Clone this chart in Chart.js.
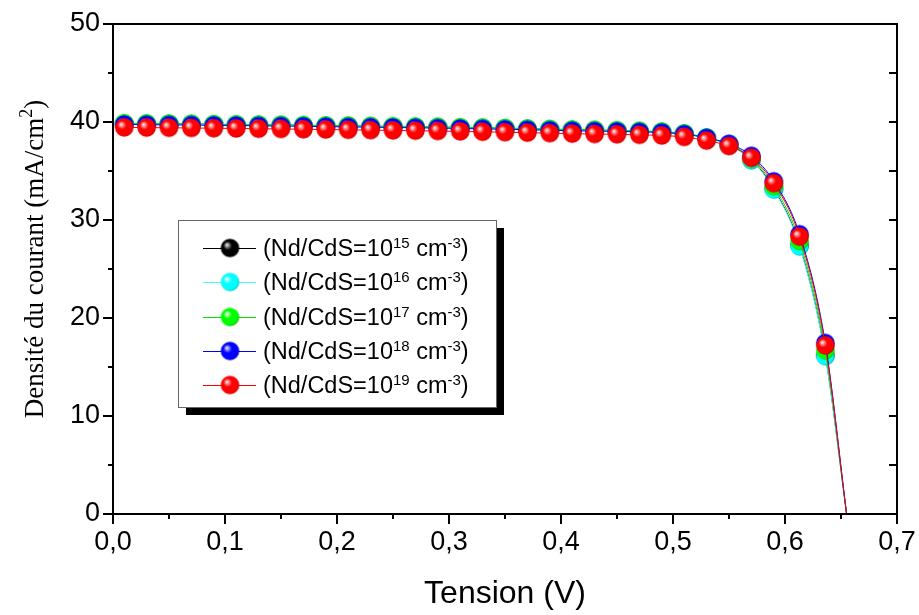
<!DOCTYPE html>
<html>
<head>
<meta charset="utf-8">
<title>Densité du courant</title>
<script src="https://cdn.jsdelivr.net/npm/chart.js@4.4.0/dist/chart.umd.min.js"></script>
<style>
  html, body { margin: 0; padding: 0; background: #fff; }
  #chart { display: block; }
</style>
</head>
<body>
<canvas id="chart" width="919" height="615"></canvas>
<script>
// J-V curves for several CdS doping levels (last point = open circuit, no marker)
var tension = [0.01, 0.03, 0.05, 0.07, 0.09, 0.11, 0.13, 0.15, 0.17, 0.19,
  0.21, 0.23, 0.25, 0.27, 0.29, 0.31, 0.33, 0.35, 0.37, 0.39,
  0.41, 0.43, 0.45, 0.47, 0.49, 0.51, 0.53, 0.55, 0.57, 0.59,
  0.613, 0.636, 0.655];

var jNd15 = [39.84, 39.82, 39.80, 39.78, 39.75, 39.73, 39.70, 39.68, 39.65, 39.62,
  39.59, 39.56, 39.53, 39.50, 39.47, 39.43, 39.39, 39.35, 39.30, 39.25,
  39.20, 39.16, 39.12, 39.06, 38.98, 38.80, 38.38, 37.66, 36.15, 33.20,
  27.40, 16.20, 0];
var jNd16 = [39.82, 39.80, 39.78, 39.76, 39.73, 39.71, 39.68, 39.66, 39.63, 39.60,
  39.57, 39.54, 39.51, 39.48, 39.45, 39.41, 39.37, 39.33, 39.28, 39.23,
  39.18, 39.14, 39.10, 39.04, 38.96, 38.78, 38.35, 37.62, 36.10, 33.10,
  27.30, 16.10, 0];
var jNd17 = [39.88, 39.86, 39.84, 39.82, 39.79, 39.77, 39.74, 39.72, 39.69, 39.66,
  39.63, 39.60, 39.57, 39.54, 39.51, 39.47, 39.43, 39.39, 39.34, 39.29,
  39.24, 39.20, 39.16, 39.10, 39.02, 38.84, 38.42, 37.72, 36.30, 33.45,
  27.85, 16.70, 0];
var jNd18 = [39.75, 39.73, 39.71, 39.69, 39.66, 39.64, 39.61, 39.59, 39.56, 39.53,
  39.50, 39.47, 39.44, 39.41, 39.38, 39.34, 39.30, 39.26, 39.21, 39.16,
  39.11, 39.07, 39.04, 38.99, 38.92, 38.76, 38.38, 37.78, 36.55, 33.95,
  28.55, 17.45, 0];
var jNd19 = [39.45, 39.43, 39.41, 39.39, 39.36, 39.34, 39.31, 39.29, 39.26, 39.23,
  39.20, 39.17, 39.14, 39.11, 39.08, 39.04, 39.00, 38.96, 38.91, 38.86,
  38.81, 38.77, 38.74, 38.69, 38.62, 38.47, 38.10, 37.55, 36.35, 33.75,
  28.30, 17.20, 0];

var series = [jNd15, jNd16, jNd17, jNd18, jNd19];
var dopingExp = ['15', '16', '17', '18', '19'];
var lineColors = ['#000000', '#4dffff', '#00e600', '#0000ff', '#ff0000'];
var ballColors = ['#000000', '#00ffff', '#00ff00', '#0000ff', '#ff0000'];

var SANS = "'Liberation Sans', Arial, sans-serif";
var SERIF = "'Liberation Serif', 'Times New Roman', serif";

function mix(a, b, t) {
  var pa = parseInt(a.slice(1), 16), pb = parseInt(b.slice(1), 16);
  var r = Math.round(((pa >> 16) & 255) * (1 - t) + ((pb >> 16) & 255) * t);
  var g = Math.round(((pa >> 8) & 255) * (1 - t) + ((pb >> 8) & 255) * t);
  var bl = Math.round((pa & 255) * (1 - t) + (pb & 255) * t);
  return 'rgb(' + r + ',' + g + ',' + bl + ')';
}

// shaded sphere used as marker
function makeBall(hex, r) {
  var size = Math.ceil(r * 2) + 2;
  var c = document.createElement('canvas');
  c.width = c.height = size;
  var g = c.getContext('2d');
  var cx = size / 2, cy = size / 2;
  var grad = g.createRadialGradient(cx - r * 0.35, cy - r * 0.35, 0, cx - r * 0.1, cy - r * 0.1, r * 1.1);
  grad.addColorStop(0, '#ffffff');
  grad.addColorStop(0.12, mix(hex, '#ffffff', 0.7));
  grad.addColorStop(0.42, hex);
  grad.addColorStop(0.85, hex);
  grad.addColorStop(1, mix(hex, '#000000', 0.2));
  g.fillStyle = grad;
  g.beginPath();
  g.arc(cx, cy, r, 0, Math.PI * 2);
  g.fill();
  return c;
}

var balls = ballColors.map(function (col) { return makeBall(col, 9.3); });

var datasets = series.map(function (vals, i) {
  return {
    label: dopingExp[i],
    data: tension.map(function (v, k) { return { x: v, y: vals[k] }; }),
    borderColor: lineColors[i],
    backgroundColor: ballColors[i],
    borderWidth: 1,
    pointStyle: balls[i],
    pointRadius: function (ctx) { return ctx.dataIndex === tension.length - 1 ? 0 : 9; },
    cubicInterpolationMode: 'monotone',
    order: series.length - i
  };
});

// axis frame with outside ticks on bottom/left, inside ticks on the right
var frameTicks = {
  id: 'frameTicks',
  afterDatasetsDraw: function (c) {
    var ctx = c.ctx, a = c.chartArea, xs = c.scales.x, ys = c.scales.y;
    ctx.save();
    ctx.strokeStyle = '#000';
    ctx.lineWidth = 2;
    ctx.strokeRect(a.left, a.top, a.right - a.left, a.bottom - a.top);
    ctx.beginPath();
    for (var k = 0; k <= 14; k++) {
      var px = Math.round(xs.getPixelForValue(k * 0.05));
      var len = k % 2 ? 5 : 10;
      ctx.moveTo(px, a.bottom);
      ctx.lineTo(px, a.bottom + len);
    }
    for (k = 0; k <= 10; k++) {
      var py = Math.round(ys.getPixelForValue(k * 5));
      len = k % 2 ? 5 : 10;
      ctx.moveTo(a.left, py);
      ctx.lineTo(a.left - len, py);
      ctx.moveTo(a.right, py);
      ctx.lineTo(a.right - 8, py);
    }
    ctx.stroke();
    ctx.restore();
  }
};

// draws text pieces in a row; [text, font, raise]
function drawRuns(ctx, x, base, parts) {
  ctx.textBaseline = 'alphabetic';
  ctx.textAlign = 'left';
  parts.forEach(function (p) {
    ctx.font = p[1];
    ctx.fillText(p[0], x, base - p[2]);
    x += ctx.measureText(p[0]).width;
  });
  return x;
}

function runsWidth(ctx, parts) {
  var w = 0;
  parts.forEach(function (p) { ctx.font = p[1]; w += ctx.measureText(p[0]).width; });
  return w;
}

var legendBox = {
  id: 'legendBox',
  afterDraw: function (c) {
    var ctx = c.ctx, a = c.chartArea;
    var x = a.left + 65, y = a.top + 196, w = 318, h = 187;
    var big = '23.5px ' + SANS, small = '15px ' + SANS;
    ctx.save();
    ctx.fillStyle = '#000';
    ctx.fillRect(x + 8, y + 8, w, h);
    ctx.fillStyle = '#fff';
    ctx.fillRect(x, y, w, h);
    ctx.strokeStyle = '#666';
    ctx.lineWidth = 1;
    ctx.strokeRect(x + 0.5, y + 0.5, w, h);
    c.data.datasets.forEach(function (d, i) {
      var ry = Math.round(y + 28 + i * 34.3);
      ctx.strokeStyle = d.borderColor;
      ctx.beginPath();
      ctx.moveTo(x + 25, ry + 0.5);
      ctx.lineTo(x + 78, ry + 0.5);
      ctx.stroke();
      var img = balls[i];
      ctx.drawImage(img, x + 52 - img.width / 2, ry - img.height / 2);
      ctx.fillStyle = '#000';
      drawRuns(ctx, x + 85, ry + 8, [['(Nd/CdS=10', big, 0], [dopingExp[i], small, 8],
        [' cm', big, 0], ['-3', small, 8], [')', big, 0]]);
    });
    ctx.restore();
  }
};

// rotated y-axis title with a raised exponent
var yTitle = {
  id: 'yTitle',
  afterDraw: function (c) {
    var ctx = c.ctx;
    var big = '27px ' + SERIF, small = '18px ' + SERIF;
    var parts = [['Densité du courant (mA/cm', big, 0], ['2', small, 11], [')', big, 0]];
    ctx.save();
    ctx.translate(43, 259);
    ctx.rotate(-Math.PI / 2);
    ctx.fillStyle = '#000';
    drawRuns(ctx, -runsWidth(ctx, parts) / 2, 0, parts);
    ctx.restore();
  }
};

function noPadding(s) {
  s.paddingTop = s.paddingBottom = s.paddingLeft = s.paddingRight = 0;
}

new Chart(document.getElementById('chart'), {
  type: 'line',
  data: { datasets: datasets },
  options: {
    responsive: false,
    animation: false,
    events: [],
    layout: { padding: { top: 24, right: 22, left: 0, bottom: 0 } },
    plugins: { legend: { display: false }, tooltip: { enabled: false } },
    scales: {
      x: {
        type: 'linear',
        min: 0,
        max: 0.7,
        grid: { display: false, drawTicks: false },
        border: { display: false },
        ticks: {
          stepSize: 0.1,
          padding: 12,
          maxRotation: 0,
          color: '#000',
          font: { family: SANS, size: 27 },
          callback: function (v) { return v.toFixed(1).replace('.', ','); }
        },
        title: {
          display: true,
          text: 'Tension (V)',
          color: '#000',
          font: { family: SANS, size: 32 },
          padding: { top: 0, bottom: 2 }
        },
        afterFit: function (s) { s.height = 101; noPadding(s); }
      },
      y: {
        min: 0,
        max: 50,
        grid: { display: false, drawTicks: false },
        border: { display: false },
        ticks: {
          stepSize: 10,
          padding: 13,
          color: '#000',
          font: { family: SANS, size: 27 }
        },
        afterFit: function (s) { s.width = 113; noPadding(s); }
      }
    }
  },
  plugins: [frameTicks, legendBox, yTitle]
});
</script>
</body>
</html>
